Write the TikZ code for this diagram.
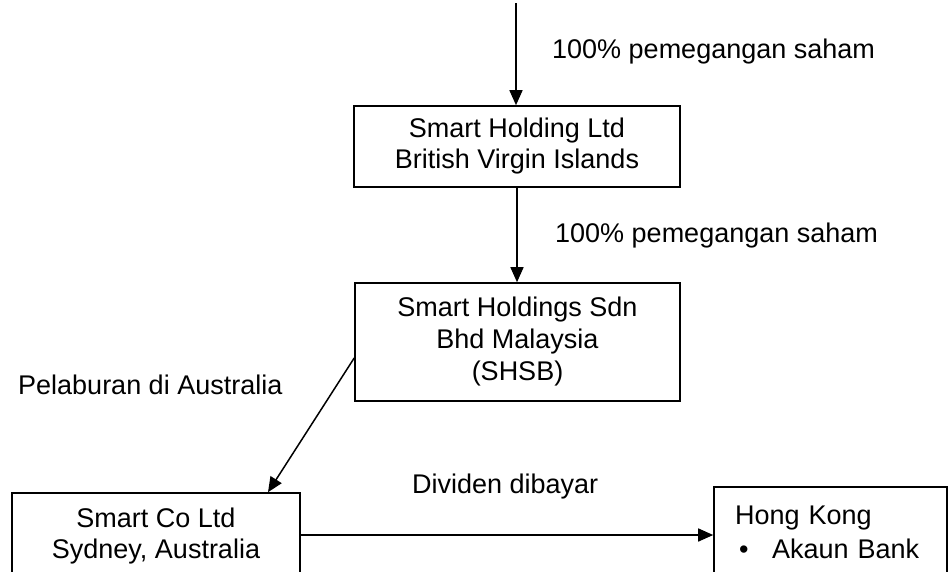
\documentclass[tikz,border=0pt]{standalone}
\usepackage{fontspec}
\setmainfont{Liberation Sans}
\usetikzlibrary{arrows.meta}
\tikzset{
  box/.style={draw, line width=1.6pt, align=center, inner sep=0pt, font=\fontsize{27}{31}\selectfont},
  lbl/.style={anchor=west, inner sep=0pt, font=\fontsize{27}{31}\selectfont},
  conn/.style={line width=1.5pt, -{Triangle[length=15pt,width=13pt]}}
}
\begin{document}
\begin{tikzpicture}[x=1pt,y=-1pt]
\useasboundingbox (0,0) rectangle (949,571);
\clip (0,0) rectangle (949,571);
\fill[white] (0,0) rectangle (949,571);
\node[box, minimum width=326pt, minimum height=81pt] (bvi) at (517,146.5)
  {Smart Holding Ltd\\British Virgin Islands};
\node[box, minimum width=325pt, minimum height=118pt] (shsb) at (517.5,342)
  {Smart Holdings Sdn\\[1pt]Bhd Malaysia\\[1pt](SHSB)};
\node[box, minimum width=288pt, minimum height=86pt] (aus) at (156,536)
  {Smart Co Ltd\\Sydney, Australia};
\node[box, minimum width=233pt, minimum height=91pt, text width=191pt, align=left] (hk) at (830.5,532.5)
  {Hong Kong\\[3pt]\makebox[37pt][l]{\hspace{4pt}•}Akaun Bank};
\coordinate (top) at (516,3);
\node[lbl] (l1) at (552,52) {100\% pemegangan saham};
\node[lbl] (l2) at (555,236) {100\% pemegangan saham};
\node[lbl] (l3) at (18,385) {Pelaburan di Australia};
\node[lbl] (l4) at (412,487) {Dividen dibayar};
\draw[conn] (top) -- (top |- bvi.north);
\draw[conn] (bvi.south) -- (bvi.south |- shsb.north);
\draw[conn] ([yshift=-16pt]shsb.west) -- ([xshift=112pt]aus.north);
\draw[conn] ([yshift=1pt]aus.east) -- ([yshift=1pt]aus.east -| hk.west);
\end{tikzpicture}
\end{document}
